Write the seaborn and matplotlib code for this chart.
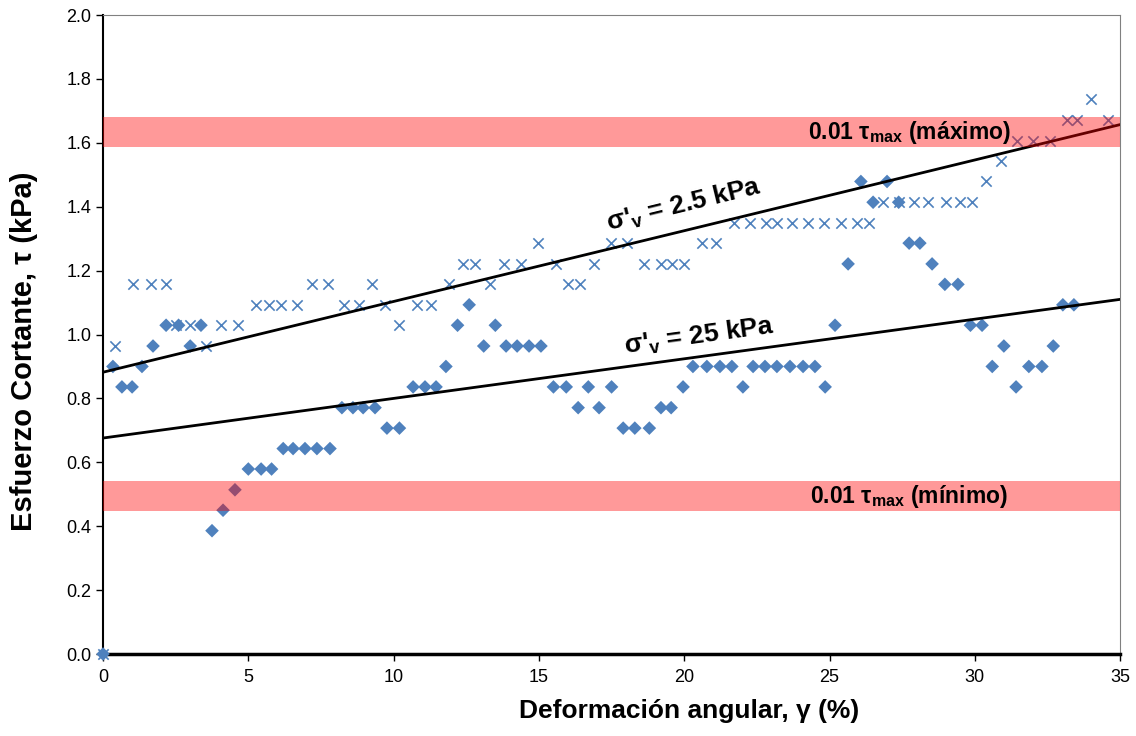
import numpy as np
import pandas as pd
import matplotlib
matplotlib.use("Agg")
import matplotlib.pyplot as plt
import seaborn as sns

# diamond series (lower confinement)
gamma_d = [0, 0.34, 0.65, 1.00, 1.34, 1.72, 2.17, 2.60, 3.00, 3.37, 3.75, 4.13, 4.54, 5.00,
           5.44, 5.80, 6.20, 6.54, 6.95, 7.36, 7.81, 8.22, 8.60, 8.95, 9.36, 9.77, 10.20,
           10.67, 11.08, 11.46, 11.80, 12.20, 12.60, 13.10, 13.50, 13.87, 14.25, 14.66,
           15.07, 15.50, 15.94, 16.35, 16.70, 17.07, 17.50, 17.90, 18.30, 18.80, 19.20,
           19.55, 19.96, 20.30, 20.78, 21.23, 21.64, 22.02, 22.37, 22.78, 23.19, 23.64,
           24.09, 24.50, 24.85, 25.19, 25.64, 26.08, 26.50, 26.98, 27.38, 27.74, 28.11,
           28.53, 28.97, 29.42, 29.85, 30.25, 30.60, 31.00, 31.42, 31.86, 32.31, 32.70,
           33.03, 33.41]
tau_d = [0, 0.900, 0.836, 0.836, 0.900, 0.964, 1.029, 1.029, 0.964, 1.029, 0.386, 0.450,
         0.514, 0.579, 0.579, 0.579, 0.643, 0.643, 0.643, 0.643, 0.643, 0.771, 0.771, 0.771,
         0.771, 0.707, 0.707, 0.836, 0.836, 0.836, 0.900, 1.029, 1.093, 0.964, 1.029, 0.964,
         0.964, 0.964, 0.964, 0.836, 0.836, 0.771, 0.836, 0.771, 0.836, 0.707, 0.707, 0.707,
         0.771, 0.771, 0.836, 0.900, 0.900, 0.900, 0.900, 0.836, 0.900, 0.900, 0.900, 0.900,
         0.900, 0.900, 0.836, 1.029, 1.221, 1.479, 1.414, 1.479, 1.414, 1.286, 1.286, 1.221,
         1.157, 1.157, 1.029, 1.029, 0.900, 0.964, 0.836, 0.900, 0.900, 0.964, 1.093, 1.093]

# cross series
gamma_x = [0, 0.41, 1.03, 1.65, 2.17, 2.50, 3.00, 3.55, 4.06, 4.65, 5.26, 5.70, 6.13, 6.67,
           7.20, 7.74, 8.30, 8.80, 9.26, 9.70, 10.20, 10.80, 11.30, 11.90, 12.40, 12.80,
           13.30, 13.80, 14.40, 14.97, 15.60, 16.00, 16.40, 16.90, 17.48, 18.03, 18.60,
           19.20, 19.57, 20.00, 20.60, 21.10, 21.70, 22.27, 22.80, 23.20, 23.70, 24.25,
           24.80, 25.40, 25.95, 26.36, 26.84, 27.40, 27.90, 28.40, 29.00, 29.50, 29.90,
           30.40, 30.90, 31.45, 32.00, 32.60, 33.17, 33.50, 34.00, 34.60]
tau_x = [0, 0.964, 1.157, 1.157, 1.157, 1.029, 1.029, 0.964, 1.029, 1.029, 1.093, 1.093,
         1.093, 1.093, 1.157, 1.157, 1.093, 1.093, 1.157, 1.093, 1.029, 1.093, 1.093, 1.157,
         1.221, 1.221, 1.157, 1.221, 1.221, 1.286, 1.221, 1.157, 1.157, 1.221, 1.286, 1.286,
         1.221, 1.221, 1.221, 1.221, 1.286, 1.286, 1.350, 1.350, 1.350, 1.350, 1.350, 1.350,
         1.350, 1.350, 1.350, 1.350, 1.414, 1.414, 1.414, 1.414, 1.414, 1.414, 1.414, 1.479,
         1.543, 1.607, 1.607, 1.607, 1.671, 1.671, 1.736, 1.671]

# reference lines
line_gamma = [0, 35]
line_25kpa_high = [0.882, 1.657]   # sigma'v = 2.5 kPa
line_25kpa_low = [0.676, 1.110]    # sigma'v = 25 kPa

# 0.01 tau_max bands (min, max)
band_max = [1.587, 1.681]
band_min = [0.448, 0.541]

sns.set_style("ticks")
plt.rcParams['font.family'] = ['Liberation Sans', 'DejaVu Sans']
plt.rcParams['mathtext.fontset'] = 'custom'
plt.rcParams['mathtext.rm'] = 'Liberation Sans'
plt.rcParams['mathtext.bf'] = 'Liberation Sans:bold'
plt.rcParams['text.color'] = 'black'
plt.rcParams['axes.labelcolor'] = 'black'

blue = '#4F81BD'

fig = plt.figure(figsize=(11.36, 7.36), dpi=100)
ax = fig.add_axes([0.0907, 0.1114, 0.8953, 0.8682])

sns.scatterplot(x=gamma_d, y=tau_d, marker='D', s=48, color=blue, edgecolor='none', ax=ax,
                zorder=3, clip_on=False)
sns.scatterplot(x=gamma_x, y=tau_x, marker='x', s=55, color=blue, linewidth=1.2, ax=ax,
                zorder=3, clip_on=False)

sns.lineplot(x=line_gamma, y=line_25kpa_high, color='black', linewidth=2, ax=ax, zorder=4)
sns.lineplot(x=line_gamma, y=line_25kpa_low, color='black', linewidth=2, ax=ax, zorder=4)

ax.axhspan(band_max[0], band_max[1], color='red', alpha=0.4, lw=0, zorder=5)
ax.axhspan(band_min[0], band_min[1], color='red', alpha=0.4, lw=0, zorder=5)

ax.set_xlim(0, 35)
ax.set_ylim(0, 2.0)
ax.set_xticks(np.arange(0, 36, 5))
ax.set_yticks(np.arange(0, 2.01, 0.2))
ax.set_yticklabels([f"{v:.1f}" for v in np.arange(0, 2.01, 0.2)])
ax.tick_params(axis='both', direction='out', length=5, width=1, labelsize=13,
               colors='black', labelcolor='black')
ax.tick_params(axis='x', pad=6)

for side in ['top', 'right']:
    ax.spines[side].set_color('#808080')
    ax.spines[side].set_linewidth(0.8)
ax.spines['left'].set_color('black')
ax.spines['left'].set_linewidth(1.5)
ax.spines['bottom'].set_color('black')
ax.spines['bottom'].set_linewidth(2.5)

ax.set_xlabel("Deformación angular, γ (%)", fontsize=19, fontweight='bold')
ax.set_ylabel("Esfuerzo Cortante, τ (kPa)", fontsize=21, fontweight='bold')
ax.xaxis.set_label_coords(0.576, -0.07)
ax.yaxis.set_label_coords(-0.064, 0.474)


def line_angle(ys):
    p = ax.transData.transform(np.column_stack([line_gamma, ys]))
    return np.degrees(np.arctan2(p[1, 1] - p[0, 1], p[1, 0] - p[0, 0]))


ax.text(20.0, 1.405, r"σ'$_\mathbf{v}$ = 2.5 kPa", fontsize=19, fontweight='bold',
        rotation=line_angle(line_25kpa_high), rotation_mode='anchor', ha='center', va='center', zorder=6)
ax.text(20.5, 0.995, r"σ'$_\mathbf{v}$ = 25 kPa", fontsize=19, fontweight='bold',
        rotation=line_angle(line_25kpa_low), rotation_mode='anchor', ha='center', va='center', zorder=6)

ax.text(27.74, 1.632, r"0.01 τ$_\mathbf{max}$ (máximo)", fontsize=16.5, fontweight='bold',
        ha='center', va='center', zorder=6)
ax.text(27.74, 0.493, r"0.01 τ$_\mathbf{max}$ (mínimo)", fontsize=16.5, fontweight='bold',
        ha='center', va='center', zorder=6)

fig.savefig("out.png", dpi=100)
